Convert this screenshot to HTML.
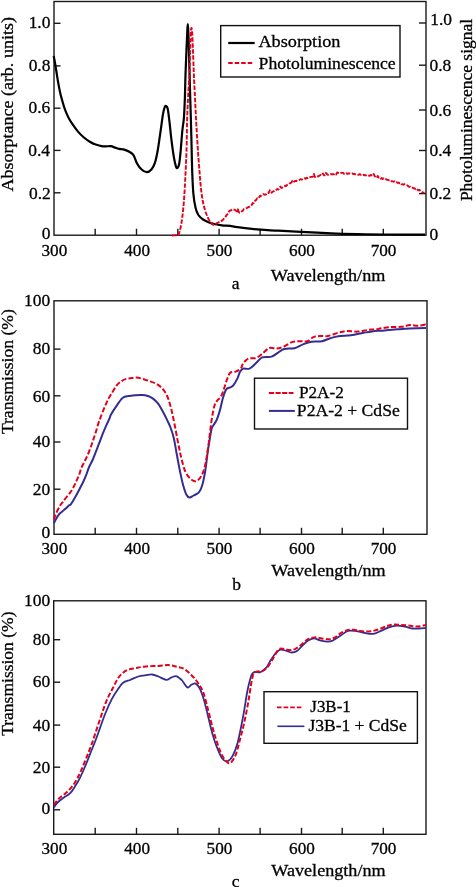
<!DOCTYPE html>
<html><head><meta charset="utf-8"><title>Figure</title><style>
html,body{margin:0;padding:0;background:#fff;width:476px;height:887px;overflow:hidden}
svg{display:block;will-change:transform}
text{font-family:"Liberation Serif",serif;fill:#000}
</style></head><body>
<svg width="476" height="887" viewBox="0 0 476 887">
<rect x="54" y="1.5" width="372.00" height="233.70" fill="none" stroke="#1a1a1a" stroke-width="1.4"/>
<line x1="95.20" y1="235.20" x2="95.20" y2="228.70" stroke="#1a1a1a" stroke-width="1.4" />
<line x1="136.50" y1="235.20" x2="136.50" y2="228.70" stroke="#1a1a1a" stroke-width="1.4" />
<line x1="177.80" y1="235.20" x2="177.80" y2="228.70" stroke="#1a1a1a" stroke-width="1.4" />
<line x1="219.10" y1="235.20" x2="219.10" y2="228.70" stroke="#1a1a1a" stroke-width="1.4" />
<line x1="260.10" y1="235.20" x2="260.10" y2="228.70" stroke="#1a1a1a" stroke-width="1.4" />
<line x1="301.50" y1="235.20" x2="301.50" y2="228.70" stroke="#1a1a1a" stroke-width="1.4" />
<line x1="342.20" y1="235.20" x2="342.20" y2="228.70" stroke="#1a1a1a" stroke-width="1.4" />
<line x1="383.30" y1="235.20" x2="383.30" y2="228.70" stroke="#1a1a1a" stroke-width="1.4" />
<line x1="54.00" y1="23.30" x2="60.50" y2="23.30" stroke="#1a1a1a" stroke-width="1.4" />
<line x1="54.00" y1="65.90" x2="60.50" y2="65.90" stroke="#1a1a1a" stroke-width="1.4" />
<line x1="54.00" y1="108.20" x2="60.50" y2="108.20" stroke="#1a1a1a" stroke-width="1.4" />
<line x1="54.00" y1="150.40" x2="60.50" y2="150.40" stroke="#1a1a1a" stroke-width="1.4" />
<line x1="54.00" y1="192.80" x2="60.50" y2="192.80" stroke="#1a1a1a" stroke-width="1.4" />
<line x1="419.00" y1="23.00" x2="426.00" y2="23.00" stroke="#1a1a1a" stroke-width="1.4" />
<line x1="419.00" y1="65.20" x2="426.00" y2="65.20" stroke="#1a1a1a" stroke-width="1.4" />
<line x1="419.00" y1="110.00" x2="426.00" y2="110.00" stroke="#1a1a1a" stroke-width="1.4" />
<line x1="419.00" y1="150.50" x2="426.00" y2="150.50" stroke="#1a1a1a" stroke-width="1.4" />
<line x1="419.00" y1="193.60" x2="426.00" y2="193.60" stroke="#1a1a1a" stroke-width="1.4" />
<text x="28.67" y="27.90" font-size="17.7" textLength="21.79" lengthAdjust="spacingAndGlyphs" stroke="#000" stroke-width="0.3">1.0</text>
<text x="28.67" y="70.60" font-size="17.7" textLength="21.79" lengthAdjust="spacingAndGlyphs" stroke="#000" stroke-width="0.3">0.8</text>
<text x="28.53" y="112.70" font-size="17.7" textLength="21.79" lengthAdjust="spacingAndGlyphs" stroke="#000" stroke-width="0.3">0.6</text>
<text x="28.28" y="155.50" font-size="17.7" textLength="21.79" lengthAdjust="spacingAndGlyphs" stroke="#000" stroke-width="0.3">0.4</text>
<text x="28.97" y="198.80" font-size="17.7" textLength="21.79" lengthAdjust="spacingAndGlyphs" stroke="#000" stroke-width="0.3">0.2</text>
<text x="41.75" y="239.30" font-size="17.7" textLength="8.72" lengthAdjust="spacingAndGlyphs" stroke="#000" stroke-width="0.3">0</text>
<text x="430.27" y="24.60" font-size="17.7" textLength="21.79" lengthAdjust="spacingAndGlyphs" stroke="#000" stroke-width="0.3">1.0</text>
<text x="429.54" y="70.80" font-size="17.7" textLength="21.79" lengthAdjust="spacingAndGlyphs" stroke="#000" stroke-width="0.3">0.8</text>
<text x="429.54" y="115.70" font-size="17.7" textLength="21.79" lengthAdjust="spacingAndGlyphs" stroke="#000" stroke-width="0.3">0.6</text>
<text x="429.54" y="155.60" font-size="17.7" textLength="21.79" lengthAdjust="spacingAndGlyphs" stroke="#000" stroke-width="0.3">0.4</text>
<text x="429.54" y="199.00" font-size="17.7" textLength="21.79" lengthAdjust="spacingAndGlyphs" stroke="#000" stroke-width="0.3">0.2</text>
<text x="429.54" y="239.60" font-size="17.7" textLength="8.72" lengthAdjust="spacingAndGlyphs" stroke="#000" stroke-width="0.3">0</text>
<text x="41.54" y="255.60" font-size="17.7" textLength="25.75" lengthAdjust="spacingAndGlyphs" stroke="#000" stroke-width="0.3">300</text>
<text x="124.28" y="255.60" font-size="17.7" textLength="25.75" lengthAdjust="spacingAndGlyphs" stroke="#000" stroke-width="0.3">400</text>
<text x="206.55" y="255.60" font-size="17.7" textLength="25.75" lengthAdjust="spacingAndGlyphs" stroke="#000" stroke-width="0.3">500</text>
<text x="289.08" y="255.60" font-size="17.7" textLength="25.75" lengthAdjust="spacingAndGlyphs" stroke="#000" stroke-width="0.3">600</text>
<text x="370.68" y="255.60" font-size="17.7" textLength="25.75" lengthAdjust="spacingAndGlyphs" stroke="#000" stroke-width="0.3">700</text>
<text x="270.88" y="280.80" font-size="17.5" textLength="114.50" lengthAdjust="spacingAndGlyphs" stroke="#000" stroke-width="0.3">Wavelength/nm</text>
<text x="231.63" y="288.90" font-size="17.5" stroke="#000" stroke-width="0.3">a</text>
<text transform="translate(12.70 191.58) rotate(-90)" x="0" y="0" font-size="17.5" textLength="174.47" lengthAdjust="spacingAndGlyphs" stroke="#000" stroke-width="0.3">Absorptance (arb. units)</text>
<text transform="translate(472.40 201.11) rotate(-90)" x="0" y="0" font-size="17.5" stroke="#000" stroke-width="0.3">Photoluminescence signal</text>
<rect x="220.7" y="25.6" width="179.3" height="51.4" fill="#fff" stroke="#111" stroke-width="1.4"/>
<line x1="228.20" y1="43.00" x2="254.70" y2="43.00" stroke="#000" stroke-width="2.2" />
<line x1="228.20" y1="63.00" x2="252.60" y2="63.00" stroke="#e3001b" stroke-width="1.8" stroke-dasharray="4.5 2"/>
<text x="258.42" y="46.70" font-size="17.5" textLength="82.05" lengthAdjust="spacingAndGlyphs" stroke="#000" stroke-width="0.3">Absorption</text>
<text x="258.59" y="69.00" font-size="17.5" textLength="137.12" lengthAdjust="spacingAndGlyphs" stroke="#000" stroke-width="0.3">Photoluminescence</text>
<path d="M53.7 56.0 C54.0 57.5 54.9 62.0 55.4 65.2 C55.9 68.4 56.5 71.9 57.0 75.3 C57.5 78.7 58.1 82.3 58.7 85.4 C59.3 88.5 59.7 90.9 60.4 93.8 C61.1 96.7 62.1 100.2 62.9 103.0 C63.7 105.8 64.4 108.1 65.4 110.6 C66.4 113.1 67.5 115.8 68.8 118.2 C70.1 120.6 71.5 122.7 73.0 124.9 C74.5 127.1 76.2 129.5 78.0 131.6 C79.8 133.7 81.9 135.8 83.9 137.5 C85.9 139.2 87.8 140.5 89.8 141.7 C91.8 142.9 93.7 143.8 95.7 144.5 C97.7 145.2 99.9 145.9 101.6 146.2 C103.3 146.5 104.3 146.4 105.8 146.4 C107.3 146.4 109.3 146.0 110.8 146.2 C112.3 146.4 113.6 147.1 115.0 147.6 C116.4 148.1 117.7 148.6 119.2 148.9 C120.8 149.2 122.6 149.1 124.3 149.6 C126.0 150.1 127.8 150.9 129.3 151.8 C130.8 152.7 132.2 153.2 133.5 155.1 C134.8 157.0 135.6 160.8 136.9 163.2 C138.2 165.6 139.9 168.0 141.6 169.5 C143.2 171.0 145.2 172.2 146.8 172.2 C148.4 172.2 150.1 171.0 151.4 169.5 C152.7 168.0 153.8 166.4 154.8 163.2 C155.9 160.0 156.8 155.5 157.7 150.5 C158.6 145.5 159.4 139.1 160.3 133.1 C161.2 127.1 162.2 118.9 162.9 114.6 C163.6 110.3 164.2 108.5 164.7 107.1 C165.2 105.7 165.5 105.8 166.0 106.0 C166.5 106.2 167.0 105.9 167.6 108.3 C168.2 110.7 168.6 114.9 169.3 120.4 C170.0 125.9 170.8 135.0 171.6 141.2 C172.4 147.4 173.2 153.2 173.9 157.4 C174.6 161.6 175.4 164.8 176.0 166.6 C176.6 168.4 176.9 168.4 177.4 168.0 C177.9 167.6 178.5 167.4 179.1 164.3 C179.7 161.2 180.3 154.9 180.8 149.3 C181.3 143.8 181.8 136.2 182.3 131.0 C182.8 125.8 183.5 123.2 183.9 118.0 C184.3 112.8 184.5 107.2 184.8 100.0 C185.1 92.8 185.2 83.5 185.5 75.0 C185.8 66.5 186.2 56.3 186.5 49.0 C186.8 41.7 187.1 35.2 187.3 31.0 C187.5 26.8 187.6 24.0 187.8 24.0 C188.0 24.0 188.1 26.8 188.3 31.0 C188.5 35.2 188.7 41.7 188.9 49.0 C189.1 56.3 189.4 66.5 189.6 75.0 C189.8 83.5 190.1 92.5 190.3 100.0 C190.5 107.5 190.7 112.2 190.9 120.0 C191.1 127.8 191.4 138.0 191.6 147.0 C191.8 156.0 192.0 166.2 192.3 174.0 C192.6 181.8 192.9 188.3 193.4 194.0 C193.9 199.7 194.8 204.5 195.6 208.0 C196.4 211.5 197.2 213.1 198.4 215.0 C199.7 216.9 201.4 218.3 203.1 219.5 C204.8 220.7 206.5 221.4 208.5 222.2 C210.5 223.0 212.9 223.7 215.2 224.2 C217.4 224.7 219.5 225.0 222.0 225.3 C224.5 225.6 228.1 225.5 230.3 225.8 C232.5 226.1 232.8 226.5 235.3 226.9 C237.8 227.3 241.2 227.6 245.4 228.1 C249.6 228.6 255.0 229.3 260.5 229.7 C266.0 230.1 271.5 230.3 278.2 230.7 C284.9 231.1 292.0 231.5 300.9 231.9 C309.8 232.3 321.9 232.9 331.3 233.3 C340.7 233.7 348.8 233.9 357.5 234.1 C366.2 234.3 372.6 234.4 383.8 234.5 C395.1 234.6 418.1 234.6 425.0 234.6" fill="none" stroke="#000" stroke-width="2.2" stroke-linejoin="round" stroke-linecap="butt" />
<path d="M172.0 235.5 172.1 235.5 172.3 235.5 172.5 235.5 172.8 235.5 173.0 235.5 173.3 235.4 173.6 235.4 173.9 235.4 174.2 235.4 174.5 235.4 174.8 235.4 175.0 235.4 175.3 235.3 175.6 235.3 175.8 235.3 176.0 235.3 176.4 235.3 176.7 235.3 177.0 235.3 177.2 235.3 177.5 235.3 177.7 235.2 177.9 235.2 178.1 235.0 178.2 234.9 178.4 234.8 178.5 234.7 178.6 234.5 178.7 234.4 178.8 234.2 178.9 234.0 179.0 233.7 179.1 233.3 179.2 232.9 179.4 232.3 179.4 232.1 179.5 232.0 179.5 231.8 179.6 231.7 179.6 231.5 179.7 231.3 179.7 231.1 179.8 231.0 179.8 230.8 179.9 230.6 179.9 230.4 180.0 230.2 180.0 230.0 180.1 229.8 180.1 229.6 180.2 229.4 180.2 229.2 180.3 228.9 180.3 228.7 180.4 228.5 180.4 228.2 180.5 228.0 180.5 227.8 180.6 227.5 180.7 227.3 180.7 227.0 180.8 226.7 180.8 226.5 180.9 226.2 180.9 225.9 181.0 225.6 181.1 225.3 181.1 225.1 181.2 224.8 181.2 224.5 181.3 224.2 181.3 223.8 181.4 223.5 181.4 223.2 181.5 222.9 181.5 222.5 181.6 222.2 181.6 221.9 181.7 221.5 181.7 221.3 181.8 221.1 181.8 220.9 181.8 220.7 181.8 220.5 181.9 220.3 181.9 220.1 181.9 219.9 182.0 219.7 182.0 219.5 182.0 219.3 182.0 219.1 182.1 218.9 182.1 218.6 182.1 218.4 182.2 218.2 182.2 218.0 182.2 217.8 182.2 217.5 182.3 217.3 182.3 217.1 182.3 216.9 182.3 216.6 182.4 216.4 182.4 216.2 182.4 215.9 182.5 215.7 182.5 215.5 182.5 215.2 182.5 215.0 182.6 214.7 182.6 214.5 182.6 214.2 182.7 214.0 182.7 213.8 182.7 213.5 182.7 213.3 182.8 213.0 182.8 212.8 182.8 212.5 182.9 212.2 182.9 212.0 182.9 211.7 182.9 211.5 183.0 211.2 183.0 211.0 183.0 210.7 183.1 210.4 183.1 210.2 183.1 209.9 183.1 209.6 183.2 209.4 183.2 209.1 183.2 208.8 183.2 208.6 183.3 208.3 183.3 208.0 183.3 207.7 183.3 207.5 183.4 207.2 183.4 206.9 183.4 206.6 183.5 206.4 183.5 206.1 183.5 205.8 183.5 205.5 183.6 205.2 183.6 205.0 183.6 204.7 183.6 204.4 183.7 204.1 183.7 203.8 183.7 203.5 183.7 203.2 183.8 202.9 183.8 202.7 183.8 202.4 183.8 202.1 183.9 201.8 183.9 201.5 183.9 201.2 183.9 201.0 183.9 200.8 184.0 200.5 184.0 200.3 184.0 200.1 184.0 199.9 184.0 199.6 184.0 199.4 184.1 199.2 184.1 198.9 184.1 198.7 184.1 198.5 184.1 198.2 184.1 198.0 184.2 197.8 184.2 197.5 184.2 197.3 184.2 197.1 184.2 196.8 184.2 196.6 184.3 196.3 184.3 196.1 184.3 195.9 184.3 195.6 184.3 195.4 184.3 195.1 184.4 194.9 184.4 194.6 184.4 194.4 184.4 194.1 184.4 193.9 184.4 193.6 184.4 193.4 184.5 193.1 184.5 192.9 184.5 192.6 184.5 192.4 184.5 192.1 184.5 191.9 184.6 191.6 184.6 191.4 184.6 191.1 184.6 190.9 184.6 190.6 184.6 190.3 184.6 190.1 184.7 189.8 184.7 189.6 184.7 189.3 184.7 189.1 184.7 188.8 184.7 188.5 184.8 188.3 184.8 188.0 184.8 187.8 184.8 187.5 184.8 187.2 184.8 187.0 184.8 186.7 184.9 186.5 184.9 186.2 184.9 185.9 184.9 185.7 184.9 185.4 184.9 185.1 184.9 184.9 185.0 184.6 185.0 184.4 185.0 184.1 185.0 183.8 185.0 183.6 185.0 183.3 185.0 183.0 185.1 182.8 185.1 182.5 185.1 182.3 185.1 182.0 185.1 181.7 185.1 181.5 185.1 181.2 185.1 180.9 185.2 180.7 185.2 180.4 185.2 180.2 185.2 179.9 185.2 179.6 185.2 179.4 185.2 179.1 185.3 178.9 185.3 178.6 185.3 178.3 185.3 178.1 185.3 177.8 185.3 177.6 185.3 177.3 185.3 177.1 185.4 176.8 185.4 176.5 185.4 176.3 185.4 176.0 185.4 175.8 185.4 175.5 185.4 175.3 185.4 175.0 185.5 174.8 185.5 174.5 185.5 174.3 185.5 174.0 185.5 173.7 185.5 173.5 185.5 173.2 185.5 173.0 185.6 172.7 185.6 172.5 185.6 172.2 185.6 172.0 185.6 171.7 185.6 171.5 185.6 171.2 185.6 171.0 185.7 170.7 185.7 170.5 185.7 170.2 185.7 170.0 185.7 169.7 185.7 169.5 185.7 169.2 185.7 169.0 185.8 168.7 185.8 168.5 185.8 168.2 185.8 168.0 185.8 167.7 185.8 167.5 185.8 167.2 185.8 167.0 185.8 166.7 185.9 166.5 185.9 166.2 185.9 166.0 185.9 165.7 185.9 165.5 185.9 165.2 185.9 165.0 185.9 164.7 185.9 164.5 186.0 164.2 186.0 164.0 186.0 163.7 186.0 163.5 186.0 163.2 186.0 163.0 186.0 162.7 186.0 162.5 186.0 162.2 186.1 162.0 186.1 161.7 186.1 161.5 186.1 161.2 186.1 161.0 186.1 160.7 186.1 160.5 186.1 160.2 186.1 160.0 186.1 159.7 186.2 159.5 186.2 159.2 186.2 159.0 186.2 158.7 186.2 158.5 186.2 158.2 186.2 158.0 186.2 157.7 186.2 157.5 186.2 157.2 186.3 157.0 186.3 156.7 186.3 156.5 186.3 156.2 186.3 156.0 186.3 155.7 186.3 155.5 186.3 155.2 186.3 155.0 186.3 154.7 186.4 154.5 186.4 154.2 186.4 154.0 186.4 153.7 186.4 153.5 186.4 153.2 186.4 153.0 186.4 152.7 186.4 152.5 186.4 152.2 186.4 152.0 186.4 151.7 186.5 151.5 186.5 151.2 186.5 151.0 186.5 150.7 186.5 150.5 186.5 150.2 186.5 150.0 186.5 149.7 186.5 149.5 186.5 149.2 186.5 149.0 186.5 148.7 186.6 148.5 186.6 148.2 186.6 148.0 186.6 147.7 186.6 147.5 186.6 147.2 186.6 147.0 186.6 146.7 186.6 146.5 186.6 146.2 186.6 146.0 186.6 145.7 186.6 145.5 186.6 145.2 186.7 145.0 186.7 144.7 186.7 144.5 186.7 144.2 186.7 144.0 186.7 143.7 186.7 143.5 186.7 143.2 186.7 143.0 186.7 142.7 186.7 142.5 186.7 142.2 186.7 142.0 186.7 141.7 186.7 141.5 186.7 141.2 186.7 141.0 186.7 140.7 186.7 140.5 186.8 140.2 186.8 140.0 186.8 139.7 186.8 139.4 186.8 139.2 186.8 138.9 186.8 138.7 186.8 138.4 186.8 138.2 186.8 137.9 186.8 137.7 186.8 137.4 186.8 137.2 186.8 136.9 186.8 136.7 186.8 136.4 186.8 136.2 186.8 135.9 186.8 135.6 186.8 135.4 186.8 135.1 186.8 134.9 186.8 134.6 186.8 134.4 186.8 134.1 186.8 133.9 186.8 133.6 186.8 133.4 186.9 133.1 186.9 132.9 186.9 132.6 186.9 132.4 186.9 132.1 186.9 131.9 186.9 131.6 186.9 131.4 186.9 131.1 186.9 130.9 186.9 130.6 186.9 130.4 186.9 130.1 186.9 129.9 186.9 129.6 186.9 129.4 186.9 129.1 186.9 128.9 186.9 128.6 186.9 128.4 186.9 128.1 186.9 127.9 186.9 127.6 186.9 127.4 186.9 127.1 186.9 126.9 186.9 126.6 187.0 126.4 187.0 126.1 187.0 125.9 187.0 125.6 187.0 125.4 187.0 125.1 187.0 124.9 187.0 124.6 187.0 124.4 187.0 124.1 187.0 123.9 187.0 123.6 187.0 123.4 187.0 123.2 187.0 122.9 187.0 122.7 187.0 122.4 187.0 122.2 187.0 121.9 187.1 121.7 187.1 121.5 187.1 121.2 187.1 121.0 187.1 120.7 187.1 120.5 187.1 120.2 187.1 120.0 187.1 119.7 187.1 119.5 187.1 119.2 187.1 119.0 187.1 118.7 187.1 118.4 187.2 118.2 187.2 117.9 187.2 117.7 187.2 117.4 187.2 117.1 187.2 116.9 187.2 116.6 187.2 116.4 187.2 116.1 187.2 115.8 187.3 115.6 187.3 115.3 187.3 115.1 187.3 114.8 187.3 114.5 187.3 114.3 187.3 114.0 187.3 113.8 187.3 113.5 187.3 113.2 187.4 113.0 187.4 112.7 187.4 112.5 187.4 112.2 187.4 111.9 187.4 111.7 187.4 111.4 187.4 111.2 187.4 110.9 187.4 110.6 187.5 110.4 187.5 110.1 187.5 109.9 187.5 109.6 187.5 109.4 187.5 109.1 187.5 108.8 187.5 108.6 187.5 108.3 187.6 108.1 187.6 107.8 187.6 107.6 187.6 107.3 187.6 107.1 187.6 106.8 187.6 106.6 187.6 106.3 187.7 106.1 187.7 105.8 187.7 105.5 187.7 105.3 187.7 105.0 187.7 104.8 187.7 104.5 187.7 104.3 187.7 104.0 187.8 103.8 187.8 103.5 187.8 103.3 187.8 103.1 187.8 102.8 187.8 102.6 187.8 102.3 187.8 102.1 187.9 101.8 187.9 101.6 187.9 101.3 187.9 101.1 187.9 100.9 187.9 100.6 187.9 100.4 187.9 100.1 188.0 99.9 188.0 99.6 188.0 99.4 188.0 99.2 188.0 98.9 188.0 98.7 188.0 98.5 188.0 98.2 188.0 98.0 188.1 97.8 188.1 97.5 188.1 97.3 188.1 97.1 188.1 96.8 188.1 96.6 188.1 96.4 188.1 96.1 188.2 95.9 188.2 95.7 188.2 95.5 188.2 95.2 188.2 95.0 188.2 94.7 188.2 94.4 188.2 94.2 188.3 93.9 188.3 93.6 188.3 93.4 188.3 93.1 188.3 92.8 188.3 92.6 188.3 92.3 188.4 92.0 188.4 91.8 188.4 91.5 188.4 91.3 188.4 91.0 188.4 90.8 188.5 90.5 188.5 90.3 188.5 90.0 188.5 89.8 188.5 89.5 188.5 89.3 188.5 89.1 188.6 88.8 188.6 88.6 188.6 88.3 188.6 88.1 188.6 87.9 188.6 87.6 188.7 87.4 188.7 87.2 188.7 86.9 188.7 86.7 188.7 86.5 188.7 86.2 188.8 86.0 188.8 85.8 188.8 85.5 188.8 85.3 188.8 85.1 188.8 84.8 188.9 84.6 188.9 84.4 188.9 84.1 188.9 83.9 188.9 83.7 188.9 83.4 188.9 83.2 189.0 83.0 189.0 82.7 189.0 82.5 189.0 82.2 189.0 82.0 189.0 81.8 189.1 81.5 189.1 81.3 189.1 81.0 189.1 80.8 189.1 80.6 189.1 80.3 189.1 80.1 189.2 79.8 189.2 79.6 189.2 79.3 189.2 79.0 189.2 78.8 189.2 78.5 189.2 78.3 189.3 78.0 189.3 77.8 189.3 77.5 189.3 77.2 189.3 77.0 189.3 76.7 189.3 76.4 189.3 76.1 189.4 75.9 189.4 75.6 189.4 75.3 189.4 75.0 189.4 74.8 189.4 74.6 189.4 74.3 189.4 74.1 189.4 73.9 189.5 73.6 189.5 73.4 189.5 73.2 189.5 72.9 189.5 72.7 189.5 72.5 189.5 72.2 189.5 72.0 189.5 71.7 189.5 71.5 189.5 71.2 189.6 71.0 189.6 70.7 189.6 70.5 189.6 70.2 189.6 70.0 189.6 69.7 189.6 69.5 189.6 69.2 189.6 68.9 189.6 68.7 189.6 68.4 189.6 68.2 189.7 67.9 189.7 67.6 189.7 67.4 189.7 67.1 189.7 66.8 189.7 66.6 189.7 66.3 189.7 66.1 189.7 65.8 189.7 65.5 189.7 65.2 189.7 65.0 189.8 64.7 189.8 64.4 189.8 64.2 189.8 63.9 189.8 63.6 189.8 63.4 189.8 63.1 189.8 62.8 189.8 62.6 189.8 62.3 189.8 62.0 189.8 61.8 189.8 61.5 189.9 61.2 189.9 60.9 189.9 60.7 189.9 60.4 189.9 60.1 189.9 59.9 189.9 59.6 189.9 59.3 189.9 59.1 189.9 58.8 189.9 58.5 189.9 58.3 189.9 58.0 189.9 57.8 190.0 57.5 190.0 57.2 190.0 57.0 190.0 56.7 190.0 56.5 190.0 56.2 190.0 55.9 190.0 55.7 190.0 55.4 190.0 55.2 190.0 54.9 190.0 54.7 190.0 54.4 190.0 54.2 190.1 53.9 190.1 53.7 190.1 53.5 190.1 53.2 190.1 53.0 190.1 52.7 190.1 52.5 190.1 52.3 190.1 52.0 190.1 51.8 190.1 51.6 190.1 51.4 190.1 51.1 190.1 50.9 190.1 50.7 190.2 50.5 190.2 50.3 190.2 50.0 190.2 49.8 190.2 49.6 190.2 49.4 190.2 49.2 190.2 49.0 190.2 48.7 190.2 48.3 190.2 48.0 190.2 47.7 190.3 47.4 190.3 47.1 190.3 46.8 190.3 46.4 190.3 46.1 190.3 45.8 190.3 45.5 190.3 45.2 190.3 44.9 190.3 44.6 190.4 44.3 190.4 44.0 190.4 43.7 190.4 43.5 190.4 43.2 190.4 42.9 190.4 42.6 190.4 42.3 190.4 42.1 190.4 41.8 190.4 41.5 190.5 41.2 190.5 41.0 190.5 40.7 190.5 40.5 190.5 40.2 190.5 39.9 190.5 39.7 190.5 39.4 190.5 39.2 190.5 38.9 190.5 38.7 190.6 38.5 190.6 38.2 190.6 38.0 190.6 37.8 190.6 37.5 190.6 37.3 190.6 37.1 190.6 36.9 190.6 36.6 190.6 36.4 190.6 36.2 190.6 36.0 190.7 35.8 190.7 35.6 190.7 35.4 190.7 35.2 190.7 35.0 190.7 34.8 190.7 34.6 190.7 34.4 190.7 34.2 190.7 34.0 190.8 33.9 190.8 33.7 190.8 33.5 190.8 33.3 190.8 33.2 190.8 33.0 190.8 32.5 190.9 32.0 190.9 31.6 190.9 31.1 191.0 30.7 191.0 30.4 191.0 30.0 191.1 29.7 191.1 29.4 191.1 29.2 191.2 29.0 191.2 28.8 191.3 28.6 191.3 28.4 191.3 28.3 191.4 28.2 191.4 28.1 191.4 28.0 191.5 28.0 191.5 28.0 191.5 28.0 191.6 28.0 191.6 28.1 191.6 28.2 191.7 28.3 191.7 28.4 191.7 28.6 191.8 28.8 191.8 29.0 191.8 29.2 191.9 29.4 191.9 29.7 192.0 30.0 192.0 30.4 192.0 30.7 192.1 31.1 192.1 31.6 192.1 32.0 192.2 32.5 192.2 33.0 192.2 33.2 192.2 33.3 192.2 33.5 192.2 33.7 192.3 33.9 192.3 34.0 192.3 34.2 192.3 34.4 192.3 34.6 192.3 34.8 192.3 35.0 192.3 35.2 192.3 35.4 192.3 35.6 192.4 35.8 192.4 36.0 192.4 36.2 192.4 36.4 192.4 36.6 192.4 36.9 192.4 37.1 192.4 37.3 192.4 37.5 192.4 37.8 192.5 38.0 192.5 38.2 192.5 38.5 192.5 38.7 192.5 38.9 192.5 39.2 192.5 39.4 192.5 39.7 192.5 39.9 192.6 40.2 192.6 40.5 192.6 40.7 192.6 41.0 192.6 41.2 192.6 41.5 192.6 41.8 192.6 42.1 192.6 42.3 192.6 42.6 192.7 42.9 192.7 43.2 192.7 43.5 192.7 43.7 192.7 44.0 192.7 44.3 192.7 44.6 192.7 44.9 192.8 45.2 192.8 45.5 192.8 45.8 192.8 46.1 192.8 46.4 192.8 46.8 192.8 47.1 192.8 47.4 192.8 47.7 192.9 48.0 192.9 48.3 192.9 48.7 192.9 49.0 192.9 49.2 192.9 49.4 192.9 49.6 192.9 49.8 192.9 50.0 192.9 50.2 193.0 50.5 193.0 50.7 193.0 50.9 193.0 51.1 193.0 51.3 193.0 51.6 193.0 51.8 193.0 52.0 193.0 52.2 193.0 52.5 193.0 52.7 193.1 52.9 193.1 53.2 193.1 53.4 193.1 53.7 193.1 53.9 193.1 54.1 193.1 54.4 193.1 54.6 193.1 54.9 193.1 55.1 193.1 55.4 193.2 55.6 193.2 55.9 193.2 56.1 193.2 56.4 193.2 56.6 193.2 56.9 193.2 57.1 193.2 57.4 193.2 57.6 193.2 57.9 193.2 58.1 193.3 58.4 193.3 58.7 193.3 58.9 193.3 59.2 193.3 59.5 193.3 59.7 193.3 60.0 193.3 60.2 193.3 60.5 193.3 60.8 193.4 61.0 193.4 61.3 193.4 61.6 193.4 61.8 193.4 62.1 193.4 62.4 193.4 62.6 193.4 62.9 193.4 63.2 193.4 63.4 193.5 63.7 193.5 64.0 193.5 64.2 193.5 64.5 193.5 64.8 193.5 65.0 193.5 65.3 193.5 65.6 193.5 65.8 193.5 66.1 193.6 66.4 193.6 66.6 193.6 66.9 193.6 67.2 193.6 67.4 193.6 67.7 193.6 68.0 193.6 68.2 193.6 68.5 193.6 68.7 193.7 69.0 193.7 69.3 193.7 69.5 193.7 69.8 193.7 70.0 193.7 70.3 193.7 70.6 193.7 70.8 193.7 71.1 193.7 71.3 193.8 71.6 193.8 71.8 193.8 72.1 193.8 72.3 193.8 72.6 193.8 72.8 193.8 73.1 193.8 73.3 193.8 73.6 193.8 73.8 193.9 74.0 193.9 74.3 193.9 74.5 193.9 74.8 193.9 75.0 193.9 75.3 193.9 75.5 193.9 75.8 193.9 76.1 194.0 76.3 194.0 76.6 194.0 76.9 194.0 77.1 194.0 77.4 194.0 77.6 194.0 77.9 194.0 78.2 194.1 78.4 194.1 78.7 194.1 78.9 194.1 79.2 194.1 79.4 194.1 79.7 194.1 80.0 194.1 80.2 194.1 80.5 194.2 80.7 194.2 81.0 194.2 81.2 194.2 81.5 194.2 81.7 194.2 82.0 194.2 82.3 194.2 82.5 194.3 82.8 194.3 83.0 194.3 83.3 194.3 83.5 194.3 83.8 194.3 84.0 194.3 84.3 194.3 84.5 194.3 84.8 194.4 85.0 194.4 85.3 194.4 85.5 194.4 85.8 194.4 86.0 194.4 86.3 194.4 86.5 194.4 86.8 194.5 87.0 194.5 87.2 194.5 87.5 194.5 87.7 194.5 88.0 194.5 88.2 194.5 88.5 194.5 88.7 194.6 89.0 194.6 89.2 194.6 89.5 194.6 89.7 194.6 89.9 194.6 90.2 194.6 90.4 194.6 90.7 194.6 90.9 194.7 91.2 194.7 91.4 194.7 91.7 194.7 91.9 194.7 92.1 194.7 92.4 194.7 92.6 194.7 92.9 194.8 93.1 194.8 93.4 194.8 93.6 194.8 93.9 194.8 94.1 194.8 94.3 194.8 94.6 194.8 94.8 194.9 95.1 194.9 95.3 194.9 95.6 194.9 95.8 194.9 96.0 194.9 96.3 194.9 96.5 194.9 96.8 195.0 97.0 195.0 97.3 195.0 97.5 195.0 97.8 195.0 98.0 195.0 98.3 195.0 98.5 195.0 98.8 195.0 99.0 195.1 99.3 195.1 99.5 195.1 99.8 195.1 100.0 195.1 100.3 195.1 100.5 195.1 100.8 195.1 101.0 195.2 101.3 195.2 101.5 195.2 101.7 195.2 102.0 195.2 102.2 195.2 102.5 195.2 102.7 195.2 103.0 195.3 103.2 195.3 103.5 195.3 103.7 195.3 103.9 195.3 104.2 195.3 104.4 195.3 104.7 195.3 104.9 195.3 105.1 195.4 105.4 195.4 105.6 195.4 105.9 195.4 106.1 195.4 106.3 195.4 106.6 195.4 106.8 195.4 107.1 195.4 107.3 195.5 107.5 195.5 107.8 195.5 108.0 195.5 108.3 195.5 108.5 195.5 108.8 195.5 109.0 195.5 109.2 195.6 109.5 195.6 109.7 195.6 110.0 195.6 110.2 195.6 110.4 195.6 110.7 195.6 110.9 195.6 111.2 195.7 111.4 195.7 111.7 195.7 111.9 195.7 112.2 195.7 112.4 195.7 112.7 195.7 112.9 195.7 113.2 195.8 113.4 195.8 113.7 195.8 113.9 195.8 114.2 195.8 114.4 195.8 114.7 195.8 114.9 195.8 115.2 195.9 115.5 195.9 115.7 195.9 116.0 195.9 116.2 195.9 116.5 195.9 116.8 195.9 117.0 196.0 117.3 196.0 117.5 196.0 117.8 196.0 118.1 196.0 118.4 196.0 118.6 196.0 118.9 196.1 119.2 196.1 119.4 196.1 119.7 196.1 120.0 196.1 120.2 196.1 120.5 196.1 120.7 196.2 120.9 196.2 121.1 196.2 121.4 196.2 121.6 196.2 121.8 196.2 122.1 196.2 122.3 196.2 122.5 196.3 122.8 196.3 123.0 196.3 123.3 196.3 123.5 196.3 123.7 196.3 124.0 196.3 124.2 196.3 124.5 196.4 124.7 196.4 124.9 196.4 125.2 196.4 125.4 196.4 125.7 196.4 125.9 196.4 126.2 196.5 126.4 196.5 126.6 196.5 126.9 196.5 127.1 196.5 127.4 196.5 127.6 196.5 127.9 196.6 128.1 196.6 128.4 196.6 128.6 196.6 128.9 196.6 129.1 196.6 129.4 196.6 129.6 196.7 129.9 196.7 130.1 196.7 130.4 196.7 130.6 196.7 130.9 196.7 131.1 196.7 131.4 196.8 131.7 196.8 131.9 196.8 132.2 196.8 132.4 196.8 132.7 196.8 132.9 196.8 133.2 196.9 133.4 196.9 133.7 196.9 134.0 196.9 134.2 196.9 134.5 196.9 134.7 196.9 135.0 197.0 135.2 197.0 135.5 197.0 135.8 197.0 136.0 197.0 136.3 197.0 136.5 197.1 136.8 197.1 137.0 197.1 137.3 197.1 137.6 197.1 137.8 197.1 138.1 197.1 138.3 197.2 138.6 197.2 138.8 197.2 139.1 197.2 139.4 197.2 139.6 197.2 139.9 197.3 140.1 197.3 140.4 197.3 140.6 197.3 140.9 197.3 141.2 197.3 141.4 197.4 141.7 197.4 141.9 197.4 142.2 197.4 142.4 197.4 142.7 197.4 143.0 197.5 143.2 197.5 143.5 197.5 143.7 197.5 144.0 197.5 144.2 197.5 144.5 197.6 144.7 197.6 145.0 197.6 145.2 197.6 145.5 197.6 145.7 197.6 146.0 197.7 146.2 197.7 146.5 197.7 146.7 197.7 147.0 197.7 147.3 197.7 147.5 197.8 147.8 197.8 148.0 197.8 148.3 197.8 148.5 197.8 148.8 197.8 149.0 197.9 149.3 197.9 149.5 197.9 149.8 197.9 150.0 197.9 150.3 197.9 150.5 198.0 150.8 198.0 151.1 198.0 151.3 198.0 151.6 198.0 151.8 198.0 152.1 198.1 152.4 198.1 152.6 198.1 152.9 198.1 153.1 198.1 153.4 198.2 153.6 198.2 153.9 198.2 154.2 198.2 154.4 198.2 154.7 198.2 154.9 198.3 155.2 198.3 155.5 198.3 155.7 198.3 156.0 198.3 156.2 198.4 156.5 198.4 156.8 198.4 157.0 198.4 157.3 198.4 157.5 198.4 157.8 198.5 158.1 198.5 158.3 198.5 158.6 198.5 158.8 198.5 159.1 198.6 159.4 198.6 159.6 198.6 159.9 198.6 160.1 198.6 160.4 198.7 160.7 198.7 160.9 198.7 161.2 198.7 161.4 198.7 161.7 198.8 161.9 198.8 162.2 198.8 162.5 198.8 162.7 198.8 163.0 198.8 163.2 198.9 163.5 198.9 163.7 198.9 164.0 198.9 164.2 198.9 164.5 199.0 164.7 199.0 165.0 199.0 165.2 199.0 165.5 199.0 165.7 199.1 166.0 199.1 166.2 199.1 166.5 199.1 166.7 199.1 167.0 199.2 167.2 199.2 167.5 199.2 167.7 199.2 168.0 199.2 168.2 199.2 168.4 199.3 168.7 199.3 168.9 199.3 169.2 199.3 169.4 199.3 169.6 199.4 169.9 199.4 170.1 199.4 170.4 199.4 170.6 199.4 170.8 199.5 171.1 199.5 171.3 199.5 171.5 199.5 171.8 199.5 172.0 199.6 172.2 199.6 172.4 199.6 172.7 199.6 172.9 199.6 173.1 199.6 173.3 199.7 173.6 199.7 173.8 199.7 174.0 199.7 174.3 199.7 174.6 199.8 174.9 199.8 175.2 199.8 175.5 199.8 175.7 199.9 176.0 199.9 176.3 199.9 176.6 199.9 176.9 200.0 177.2 200.0 177.4 200.0 177.7 200.0 178.0 200.1 178.3 200.1 178.6 200.1 178.8 200.1 179.1 200.2 179.4 200.2 179.7 200.2 179.9 200.2 180.2 200.2 180.5 200.3 180.7 200.3 181.0 200.3 181.3 200.3 181.5 200.4 181.8 200.4 182.1 200.4 182.3 200.4 182.6 200.5 182.9 200.5 183.1 200.5 183.4 200.5 183.6 200.6 183.9 200.6 184.1 200.6 184.4 200.6 184.7 200.6 184.9 200.7 185.2 200.7 185.4 200.7 185.7 200.7 185.9 200.8 186.2 200.8 186.4 200.8 186.7 200.8 186.9 200.9 187.1 200.9 187.4 200.9 187.6 200.9 187.9 201.0 188.1 201.0 188.3 201.0 188.6 201.0 188.8 201.1 189.1 201.1 189.3 201.1 189.5 201.1 189.8 201.2 190.0 201.2 190.2 201.2 190.5 201.2 190.7 201.3 190.9 201.3 191.1 201.3 191.4 201.3 191.6 201.4 191.8 201.4 192.0 201.4 192.2 201.4 192.5 201.5 192.7 201.5 192.9 201.5 193.1 201.6 193.3 201.6 193.6 201.6 193.8 201.6 194.0 201.7 194.2 201.7 194.4 201.7 194.7 201.8 195.0 201.8 195.3 201.9 195.6 201.9 195.9 202.0 196.2 202.0 196.5 202.0 196.8 202.1 197.1 202.1 197.3 202.2 197.6 202.2 197.9 202.3 198.2 202.3 198.4 202.4 198.7 202.4 199.0 202.5 199.2 202.5 199.5 202.6 199.8 202.6 200.0 202.6 200.3 202.7 200.5 202.7 200.8 202.8 201.0 202.8 201.3 202.9 201.5 202.9 201.8 203.0 202.0 203.0 202.2 203.1 202.5 203.1 202.7 203.2 203.0 203.2 203.2 203.3 203.4 203.3 203.6 203.4 203.9 203.4 204.1 203.5 204.3 203.5 204.6 203.6 204.8 203.6 205.0 203.7 205.2 203.8 205.4 203.8 205.7 203.9 205.9 203.9 206.1 204.0 206.3 204.0 206.5 204.1 206.7 204.1 206.9 204.2 207.2 204.2 207.4 204.3 207.6 204.3 207.8 204.4 208.0 204.5 208.3 204.6 208.6 204.6 208.9 204.7 209.2 204.8 209.4 204.9 209.7 205.0 210.0 205.1 210.3 205.2 210.6 205.2 210.8 205.3 211.1 205.4 211.4 205.5 211.6 205.6 211.9 205.7 212.1 205.8 212.4 205.9 212.6 206.0 212.9 206.1 213.1 206.1 213.4 206.2 213.6 206.3 213.9 206.4 214.1 206.5 214.3 206.6 214.6 206.7 214.8 206.8 215.0 206.9 215.2 207.0 215.4 207.0 215.6 207.1 215.9 207.2 216.1 207.3 216.3 207.4 216.5 207.5 216.7 207.6 216.8 207.6 217.0 207.7 217.2 207.8 217.4 207.9 217.7 208.1 218.0 208.2 218.3 208.3 218.6 208.5 218.9 208.6 219.1 208.7 219.4 208.9 219.6 209.0 219.8 209.1 220.0 209.2 220.2 209.3 220.4 209.5 220.6 209.6 220.8 209.7 220.9 209.8 221.1 210.0 221.3 210.1 221.5 210.2 221.6 210.4 221.8 210.5 222.0 210.7 222.2 210.9 222.4 211.0 222.7 211.2 222.9 211.4 223.1 211.6 223.4 211.8 223.6 212.0 223.8 212.2 224.0 212.4 224.1 212.6 224.3 212.8 224.5 213.0 224.6 213.2 224.7 213.4 224.8 213.6 224.9 213.8 224.9 214.0 224.9 214.2 224.9 214.4 224.8 214.7 224.7 214.9 224.6 215.1 224.5 215.3 224.4 215.5 224.2 215.8 224.1 216.0 223.9 216.2 223.7 216.4 223.6 216.7 223.4 216.9 223.2 217.1 223.1 217.4 222.9 217.6 222.8 217.8 222.7 218.1 222.6 218.3 222.5 218.5 222.4 218.8 222.2 219.0 222.1 219.3 222.0 219.5 221.9 219.7 221.8 220.0 221.7 220.2 221.6 220.5 221.5 220.7 221.4 220.9 221.2 221.2 221.1 221.4 221.0 221.6 220.8 221.8 220.7 222.0 220.6 222.2 220.4 222.4 220.2 222.6 220.1 222.8 219.9 222.9 219.8 223.1 219.6 223.3 219.4 223.5 219.2 223.6 219.1 223.8 218.9 224.0 218.7 224.1 218.5 224.3 218.3 224.5 218.1 224.7 217.9 224.8 217.7 225.0 217.5 225.2 217.3 225.3 217.1 225.5 216.9 225.6 216.7 225.8 216.5 225.9 216.3 226.1 215.7 227.0 214.6 227.9 213.7 229.0 211.5 230.0 210.5 231.0 210.4 232.1 209.5 233.1 209.2 234.2 209.6 235.1 210.0 236.0 210.8 237.0 211.4 237.9 209.3 238.8 212.1 239.7 212.8 240.8 212.4 241.8 211.3 242.8 210.8 243.9 209.1 244.8 208.8 245.8 208.7 246.8 208.0 247.8 207.4 248.8 207.0 249.8 206.6 250.8 205.8 251.7 205.1 252.7 203.0 253.6 203.2 254.5 201.7 255.4 200.3 256.3 199.9 257.2 198.2 258.1 198.5 259.1 197.4 260.1 195.7 261.0 196.0 261.9 194.5 262.9 194.1 263.8 194.2 264.8 194.8 265.8 194.6 266.8 193.1 267.8 192.8 268.7 193.0 269.7 190.3 270.7 192.2 271.7 192.7 272.7 191.6 273.6 191.4 274.5 190.8 275.5 190.9 276.4 189.7 277.3 189.0 278.4 189.6 279.4 187.2 280.3 186.6 281.3 188.0 282.2 187.7 283.2 187.4 284.2 187.0 285.2 185.7 286.1 186.1 287.2 184.9 288.2 184.7 289.3 183.7 290.4 183.1 291.3 182.5 292.3 181.1 293.3 182.4 294.4 181.3 295.4 181.0 296.4 181.0 297.4 180.2 298.4 180.2 299.6 179.8 300.5 179.2 301.6 179.6 302.6 179.1 303.6 178.3 304.7 178.2 305.8 178.8 306.9 177.8 307.9 178.1 308.9 177.4 309.9 177.1 310.9 176.9 311.9 176.9 312.9 176.7 313.9 174.0 314.9 177.0 315.9 176.2 316.9 176.7 317.9 176.3 318.9 176.0 319.9 175.3 320.9 175.0 321.9 175.3 322.9 173.4 323.9 175.2 324.9 175.3 325.9 172.9 326.9 174.1 327.9 174.8 329.0 174.4 330.0 174.6 331.0 174.1 332.0 174.3 333.1 174.1 334.1 174.2 335.1 173.6 336.1 174.5 337.2 172.5 338.2 172.9 339.2 173.3 340.2 173.4 341.3 172.8 342.3 172.9 343.3 172.9 344.3 174.0 345.4 173.5 346.4 173.3 347.4 173.8 348.4 173.5 349.5 173.5 350.5 173.8 351.5 173.7 352.5 173.5 353.5 174.1 354.5 173.9 355.5 174.3 356.5 174.1 357.6 174.6 358.6 174.7 359.6 174.1 360.6 174.9 361.7 174.6 362.7 175.3 363.7 174.7 364.7 175.4 365.7 175.1 366.7 175.7 367.7 176.0 368.7 175.8 369.7 175.8 370.7 174.9 371.7 175.4 372.7 175.7 373.7 174.0 374.7 176.2 375.7 177.2 376.7 177.8 377.7 175.9 378.7 177.6 379.7 177.3 380.7 178.7 381.7 178.1 382.6 179.0 383.6 178.4 384.6 179.3 385.6 179.2 386.6 179.5 387.6 179.8 388.6 180.2 389.6 180.3 390.6 180.3 391.6 181.4 392.6 181.3 393.6 181.7 394.6 181.3 395.6 182.4 396.6 182.3 397.6 182.9 398.5 182.5 399.5 183.3 400.5 183.0 401.5 184.3 402.5 184.3 403.5 184.7 404.4 184.2 405.4 184.2 406.3 185.0 407.3 185.3 408.3 186.2 409.3 186.9 410.3 186.8 411.2 187.5 412.3 187.6 413.3 188.2 414.5 188.2 415.4 189.2 416.5 188.6 417.4 189.6 418.3 190.4 419.3 189.9 420.2 190.5 421.3 191.7 422.4 192.4 423.5 192.7 424.5 192.3" fill="none" stroke="#e3001b" stroke-width="1.9" stroke-linejoin="round" stroke-linecap="butt" stroke-dasharray="4.5 1.6"/>
<rect x="54" y="300.8" width="373.00" height="233.50" fill="none" stroke="#1a1a1a" stroke-width="1.4"/>
<line x1="95.20" y1="534.30" x2="95.20" y2="527.80" stroke="#1a1a1a" stroke-width="1.4" />
<line x1="136.50" y1="534.30" x2="136.50" y2="527.80" stroke="#1a1a1a" stroke-width="1.4" />
<line x1="177.80" y1="534.30" x2="177.80" y2="527.80" stroke="#1a1a1a" stroke-width="1.4" />
<line x1="219.10" y1="534.30" x2="219.10" y2="527.80" stroke="#1a1a1a" stroke-width="1.4" />
<line x1="260.10" y1="534.30" x2="260.10" y2="527.80" stroke="#1a1a1a" stroke-width="1.4" />
<line x1="301.50" y1="534.30" x2="301.50" y2="527.80" stroke="#1a1a1a" stroke-width="1.4" />
<line x1="342.20" y1="534.30" x2="342.20" y2="527.80" stroke="#1a1a1a" stroke-width="1.4" />
<line x1="383.30" y1="534.30" x2="383.30" y2="527.80" stroke="#1a1a1a" stroke-width="1.4" />
<line x1="54.00" y1="349.10" x2="60.50" y2="349.10" stroke="#1a1a1a" stroke-width="1.4" />
<line x1="54.00" y1="395.80" x2="60.50" y2="395.80" stroke="#1a1a1a" stroke-width="1.4" />
<line x1="54.00" y1="442.00" x2="60.50" y2="442.00" stroke="#1a1a1a" stroke-width="1.4" />
<line x1="54.00" y1="489.20" x2="60.50" y2="489.20" stroke="#1a1a1a" stroke-width="1.4" />
<text x="24.11" y="305.90" font-size="17.7" textLength="26.15" lengthAdjust="spacingAndGlyphs" stroke="#000" stroke-width="0.3">100</text>
<text x="32.83" y="353.80" font-size="17.7" textLength="17.43" lengthAdjust="spacingAndGlyphs" stroke="#000" stroke-width="0.3">80</text>
<text x="32.83" y="401.80" font-size="17.7" textLength="17.43" lengthAdjust="spacingAndGlyphs" stroke="#000" stroke-width="0.3">60</text>
<text x="32.83" y="446.50" font-size="17.7" textLength="17.43" lengthAdjust="spacingAndGlyphs" stroke="#000" stroke-width="0.3">40</text>
<text x="32.83" y="494.50" font-size="17.7" textLength="17.43" lengthAdjust="spacingAndGlyphs" stroke="#000" stroke-width="0.3">20</text>
<text x="41.55" y="537.70" font-size="17.7" textLength="8.72" lengthAdjust="spacingAndGlyphs" stroke="#000" stroke-width="0.3">0</text>
<text x="41.54" y="554.40" font-size="17.7" textLength="25.75" lengthAdjust="spacingAndGlyphs" stroke="#000" stroke-width="0.3">300</text>
<text x="124.28" y="554.40" font-size="17.7" textLength="25.75" lengthAdjust="spacingAndGlyphs" stroke="#000" stroke-width="0.3">400</text>
<text x="206.55" y="554.40" font-size="17.7" textLength="25.75" lengthAdjust="spacingAndGlyphs" stroke="#000" stroke-width="0.3">500</text>
<text x="289.08" y="554.40" font-size="17.7" textLength="25.75" lengthAdjust="spacingAndGlyphs" stroke="#000" stroke-width="0.3">600</text>
<text x="370.68" y="554.40" font-size="17.7" textLength="25.75" lengthAdjust="spacingAndGlyphs" stroke="#000" stroke-width="0.3">700</text>
<text x="271.28" y="576.40" font-size="17.5" textLength="114.40" lengthAdjust="spacingAndGlyphs" stroke="#000" stroke-width="0.3">Wavelength/nm</text>
<text x="232.26" y="589.60" font-size="17.5" stroke="#000" stroke-width="0.3">b</text>
<text transform="translate(12.90 434.12) rotate(-90)" x="0" y="0" font-size="17.5" textLength="124.99" lengthAdjust="spacingAndGlyphs" stroke="#000" stroke-width="0.3">Transmission (%)</text>
<rect x="254.5" y="378.2" width="153" height="50.8" fill="#fff" stroke="#111" stroke-width="1.4"/>
<line x1="268.90" y1="392.90" x2="293.50" y2="392.90" stroke="#e3001b" stroke-width="2" stroke-dasharray="5.2 1.4"/>
<line x1="268.90" y1="410.90" x2="294.80" y2="410.90" stroke="#332d92" stroke-width="2" />
<text x="298.90" y="397.60" font-size="17.5" textLength="44.95" lengthAdjust="spacingAndGlyphs" stroke="#000" stroke-width="0.3">P2A-2</text>
<text x="296.89" y="416.30" font-size="17.5" textLength="102.92" lengthAdjust="spacingAndGlyphs" stroke="#000" stroke-width="0.3">P2A-2 + CdSe</text>
<path d="M53.9 523.2 C54.2 522.6 54.9 520.9 55.8 519.4 C56.7 517.9 58.1 515.6 59.2 514.2 C60.3 512.9 61.4 512.3 62.5 511.3 C63.6 510.3 64.9 509.3 66.0 508.3 C67.1 507.3 68.5 505.9 69.2 505.3 C69.9 504.7 69.9 505.4 70.4 504.9 C70.9 504.4 71.4 503.6 72.3 502.1 C73.2 500.6 74.8 498.0 76.0 495.8 C77.2 493.6 78.4 491.4 79.6 489.0 C80.8 486.6 82.2 484.0 83.4 481.5 C84.6 479.0 85.6 476.3 86.6 473.9 C87.5 471.5 88.1 469.4 89.1 467.0 C90.1 464.6 91.3 463.1 92.8 459.5 C94.3 455.9 96.6 449.8 98.2 445.7 C99.8 441.6 101.0 438.3 102.3 434.9 C103.6 431.5 105.1 428.1 106.3 425.4 C107.5 422.7 108.7 420.3 109.5 418.5 C110.3 416.7 109.8 416.7 111.0 414.5 C112.2 412.3 114.9 408.1 116.9 405.3 C118.9 402.5 120.8 399.2 122.8 397.7 C124.8 396.1 126.6 396.4 128.7 396.0 C130.8 395.6 133.2 395.4 135.4 395.2 C137.6 395.0 140.0 394.8 142.1 394.9 C144.2 395.0 146.2 395.4 148.0 396.0 C149.8 396.6 151.3 397.3 153.0 398.6 C154.7 399.9 156.4 401.4 158.1 403.6 C159.8 405.8 161.6 409.2 163.1 412.0 C164.6 414.8 166.1 417.8 167.3 420.4 C168.5 423.0 169.4 424.6 170.5 427.5 C171.6 430.4 172.6 433.2 173.7 437.7 C174.8 442.2 175.8 448.9 176.8 454.5 C177.9 460.1 178.9 466.2 180.0 471.3 C181.1 476.4 182.0 481.1 183.1 485.0 C184.2 488.9 185.2 492.4 186.3 494.5 C187.4 496.6 188.2 497.4 189.4 497.6 C190.6 497.8 192.0 496.4 193.6 495.5 C195.2 494.6 197.5 494.0 198.9 492.4 C200.3 490.8 200.9 489.5 202.0 486.0 C203.1 482.5 204.1 477.6 205.2 471.3 C206.2 465.0 207.2 455.2 208.3 448.2 C209.4 441.2 210.6 433.1 211.5 429.3 C212.4 425.5 212.7 426.7 213.6 425.1 C214.5 423.5 215.6 422.3 216.7 419.9 C217.8 417.4 218.8 414.1 219.9 410.4 C221.0 406.7 221.9 401.3 223.0 397.8 C224.1 394.3 225.0 391.1 226.2 389.4 C227.4 387.6 229.2 388.0 230.4 387.3 C231.6 386.6 232.3 386.8 233.5 385.2 C234.7 383.6 236.6 380.1 237.7 377.9 C238.8 375.6 239.1 373.2 240.0 371.7 C240.9 370.1 241.6 369.1 243.2 368.6 C244.8 368.1 247.4 369.5 249.5 368.6 C251.6 367.7 253.7 365.2 255.8 363.3 C257.9 361.4 259.5 358.5 262.1 357.4 C264.7 356.3 268.9 357.4 271.5 356.6 C274.1 355.8 275.7 354.1 277.8 352.8 C279.9 351.5 281.3 349.8 284.1 349.0 C286.9 348.2 291.5 349.0 294.6 348.2 C297.8 347.4 300.2 345.5 303.0 344.4 C305.8 343.3 308.2 342.2 311.4 341.7 C314.5 341.2 318.8 341.9 321.9 341.3 C325.0 340.7 327.6 339.0 330.3 338.2 C333.1 337.4 334.9 336.8 338.4 336.3 C341.8 335.8 346.8 335.8 351.0 335.2 C355.2 334.6 360.1 333.3 363.6 332.7 C367.1 332.1 368.5 331.8 372.0 331.4 C375.5 331.0 380.4 330.8 384.6 330.4 C388.8 330.0 393.0 329.6 397.2 329.3 C401.4 329.0 405.0 328.7 409.8 328.5 C414.6 328.3 423.3 328.0 426.0 327.9" fill="none" stroke="#332d92" stroke-width="2.0" stroke-linejoin="round" stroke-linecap="butt" />
<path d="M53.9 519.4 C54.1 518.8 54.6 517.3 55.2 515.7 C55.8 514.1 56.8 511.9 57.7 510.0 C58.6 508.1 59.9 505.9 60.8 504.5 C61.7 503.1 62.1 502.9 62.9 501.8 C63.7 500.7 64.7 499.4 65.8 498.0 C66.9 496.6 68.4 495.0 69.6 493.4 C70.8 491.8 71.9 490.1 73.0 488.1 C74.1 486.1 75.2 483.6 76.2 481.5 C77.2 479.4 78.1 477.5 79.0 475.2 C79.9 472.9 80.5 469.9 81.5 467.6 C82.5 465.3 83.6 463.7 84.7 461.3 C85.8 458.9 87.2 456.2 88.3 453.5 C89.4 450.8 90.6 447.6 91.5 445.0 C92.4 442.4 93.0 440.6 93.8 438.2 C94.6 435.8 95.4 433.4 96.2 430.8 C97.0 428.2 97.9 424.7 98.6 422.7 C99.2 420.7 99.1 421.2 100.1 418.7 C101.0 416.2 102.9 411.1 104.3 407.8 C105.7 404.5 107.1 401.3 108.5 398.6 C109.9 395.9 111.3 394.1 112.7 391.8 C114.1 389.6 115.4 386.9 116.9 385.1 C118.4 383.3 120.2 382.0 121.9 380.9 C123.6 379.8 125.3 379.2 127.0 378.7 C128.7 378.2 130.5 378.3 132.0 378.1 C133.5 377.9 134.5 377.5 136.2 377.6 C137.9 377.7 140.0 378.1 142.1 378.7 C144.2 379.2 146.6 380.1 148.8 380.9 C151.0 381.7 153.5 382.4 155.5 383.4 C157.5 384.4 159.0 385.4 160.6 386.8 C162.2 388.2 163.5 389.8 164.8 391.8 C166.1 393.8 167.1 395.5 168.2 398.6 C169.3 401.7 170.5 406.0 171.6 410.4 C172.7 414.8 173.6 419.9 174.7 425.1 C175.8 430.4 176.8 436.6 177.9 441.9 C179.0 447.1 179.8 451.7 181.0 456.6 C182.2 461.5 183.6 467.6 185.2 471.3 C186.8 475.0 188.8 477.1 190.5 478.7 C192.2 480.3 193.9 481.5 195.7 481.2 C197.4 480.9 199.4 479.3 201.0 476.6 C202.6 473.9 204.0 470.1 205.2 465.0 C206.4 459.9 207.2 453.5 208.3 446.1 C209.4 438.8 210.4 427.7 211.5 420.9 C212.6 414.1 213.5 408.7 214.6 405.2 C215.7 401.7 216.8 401.3 217.8 399.9 C218.9 398.5 219.9 398.7 220.9 396.8 C221.9 394.9 223.1 391.4 224.1 388.4 C225.1 385.4 226.1 381.5 227.2 378.9 C228.2 376.3 229.0 373.8 230.4 372.6 C231.8 371.4 233.8 372.3 235.6 371.6 C237.3 370.9 239.6 369.8 240.9 368.4 C242.2 367.0 241.9 364.9 243.2 363.3 C244.4 361.7 246.3 359.4 248.4 358.5 C250.5 357.6 253.5 358.9 255.8 358.1 C258.1 357.3 259.8 355.6 262.1 353.9 C264.4 352.2 266.9 348.9 269.4 348.0 C271.8 347.1 274.4 348.9 276.8 348.6 C279.2 348.4 281.5 347.6 284.1 346.5 C286.7 345.4 289.7 342.8 292.5 341.9 C295.3 341.0 298.4 341.4 300.9 341.3 C303.3 341.2 305.1 342.0 307.2 341.3 C309.3 340.6 311.4 338.0 313.5 337.1 C315.6 336.2 317.4 336.2 319.8 336.0 C322.2 335.8 325.1 336.6 328.2 336.0 C331.3 335.4 335.3 333.5 338.4 332.7 C341.5 331.9 343.6 331.2 346.8 331.0 C350.0 330.8 353.8 331.8 357.3 331.6 C360.8 331.4 364.3 330.4 367.8 330.0 C371.3 329.6 374.8 329.4 378.3 328.9 C381.8 328.4 385.0 327.5 388.8 327.2 C392.6 326.9 397.9 327.1 401.4 326.8 C404.9 326.5 407.0 325.3 409.8 325.1 C412.6 324.9 415.5 325.9 418.2 325.8 C420.9 325.7 424.7 324.6 426.0 324.3" fill="none" stroke="#e3001b" stroke-width="2.0" stroke-linejoin="round" stroke-linecap="butt" stroke-dasharray="5.2 2.2"/>
<rect x="53.7" y="600.8" width="372.30" height="233.50" fill="none" stroke="#1a1a1a" stroke-width="1.4"/>
<line x1="95.20" y1="834.30" x2="95.20" y2="827.80" stroke="#1a1a1a" stroke-width="1.4" />
<line x1="136.50" y1="834.30" x2="136.50" y2="827.80" stroke="#1a1a1a" stroke-width="1.4" />
<line x1="177.80" y1="834.30" x2="177.80" y2="827.80" stroke="#1a1a1a" stroke-width="1.4" />
<line x1="219.10" y1="834.30" x2="219.10" y2="827.80" stroke="#1a1a1a" stroke-width="1.4" />
<line x1="260.10" y1="834.30" x2="260.10" y2="827.80" stroke="#1a1a1a" stroke-width="1.4" />
<line x1="301.50" y1="834.30" x2="301.50" y2="827.80" stroke="#1a1a1a" stroke-width="1.4" />
<line x1="342.20" y1="834.30" x2="342.20" y2="827.80" stroke="#1a1a1a" stroke-width="1.4" />
<line x1="383.30" y1="834.30" x2="383.30" y2="827.80" stroke="#1a1a1a" stroke-width="1.4" />
<line x1="53.70" y1="639.70" x2="60.20" y2="639.70" stroke="#1a1a1a" stroke-width="1.4" />
<line x1="53.70" y1="682.20" x2="60.20" y2="682.20" stroke="#1a1a1a" stroke-width="1.4" />
<line x1="53.70" y1="725.10" x2="60.20" y2="725.10" stroke="#1a1a1a" stroke-width="1.4" />
<line x1="53.70" y1="767.20" x2="60.20" y2="767.20" stroke="#1a1a1a" stroke-width="1.4" />
<line x1="53.70" y1="809.80" x2="60.20" y2="809.80" stroke="#1a1a1a" stroke-width="1.4" />
<text x="24.11" y="605.60" font-size="17.7" textLength="26.15" lengthAdjust="spacingAndGlyphs" stroke="#000" stroke-width="0.3">100</text>
<text x="32.83" y="644.60" font-size="17.7" textLength="17.43" lengthAdjust="spacingAndGlyphs" stroke="#000" stroke-width="0.3">80</text>
<text x="32.83" y="686.80" font-size="17.7" textLength="17.43" lengthAdjust="spacingAndGlyphs" stroke="#000" stroke-width="0.3">60</text>
<text x="32.83" y="730.80" font-size="17.7" textLength="17.43" lengthAdjust="spacingAndGlyphs" stroke="#000" stroke-width="0.3">40</text>
<text x="32.83" y="772.70" font-size="17.7" textLength="17.43" lengthAdjust="spacingAndGlyphs" stroke="#000" stroke-width="0.3">20</text>
<text x="41.55" y="814.40" font-size="17.7" textLength="8.72" lengthAdjust="spacingAndGlyphs" stroke="#000" stroke-width="0.3">0</text>
<text x="41.54" y="854.10" font-size="17.7" textLength="25.75" lengthAdjust="spacingAndGlyphs" stroke="#000" stroke-width="0.3">300</text>
<text x="124.28" y="854.10" font-size="17.7" textLength="25.75" lengthAdjust="spacingAndGlyphs" stroke="#000" stroke-width="0.3">400</text>
<text x="206.55" y="854.10" font-size="17.7" textLength="25.75" lengthAdjust="spacingAndGlyphs" stroke="#000" stroke-width="0.3">500</text>
<text x="289.08" y="854.10" font-size="17.7" textLength="25.75" lengthAdjust="spacingAndGlyphs" stroke="#000" stroke-width="0.3">600</text>
<text x="370.68" y="854.10" font-size="17.7" textLength="25.75" lengthAdjust="spacingAndGlyphs" stroke="#000" stroke-width="0.3">700</text>
<text x="271.28" y="875.50" font-size="17.5" textLength="114.40" lengthAdjust="spacingAndGlyphs" stroke="#000" stroke-width="0.3">Wavelength/nm</text>
<text x="231.85" y="887.00" font-size="17.5" stroke="#000" stroke-width="0.3">c</text>
<text transform="translate(12.90 735.82) rotate(-90)" x="0" y="0" font-size="17.5" stroke="#000" stroke-width="0.3">Transmission (%)</text>
<rect x="264" y="691.7" width="153.4" height="51.6" fill="#fff" stroke="#111" stroke-width="1.4"/>
<line x1="277.00" y1="707.30" x2="301.60" y2="707.30" stroke="#e3001b" stroke-width="1.8" stroke-dasharray="4.6 2"/>
<line x1="277.40" y1="726.30" x2="304.40" y2="726.30" stroke="#332d92" stroke-width="1.6" />
<text x="310.35" y="711.70" font-size="17.5" textLength="40.37" lengthAdjust="spacingAndGlyphs" stroke="#000" stroke-width="0.3">J3B-1</text>
<text x="308.43" y="730.60" font-size="17.5" stroke="#000" stroke-width="0.3">J3B-1 + CdSe</text>
<path d="M53.8 807.5 C54.4 806.7 55.9 804.2 57.6 802.5 C59.3 800.8 61.8 799.0 63.9 797.5 C66.0 796.0 68.3 795.1 70.2 793.2 C72.1 791.3 73.5 788.8 75.2 786.1 C76.9 783.5 78.5 780.6 80.2 777.3 C81.9 773.9 83.6 770.0 85.3 766.0 C87.0 762.0 88.6 757.6 90.3 753.4 C92.0 749.2 93.7 745.1 95.4 740.7 C97.1 736.3 98.7 731.5 100.4 726.9 C102.1 722.3 103.6 717.6 105.5 713.0 C107.4 708.4 109.7 703.2 111.8 699.2 C113.9 695.2 116.2 691.8 118.1 689.1 C120.0 686.4 121.0 684.4 123.1 682.8 C125.2 681.2 128.2 680.8 130.7 679.7 C133.2 678.7 135.7 677.2 138.2 676.5 C140.7 675.8 143.5 675.5 145.8 675.2 C148.1 674.9 150.0 674.3 152.1 674.5 C154.2 674.7 156.0 675.6 158.4 676.5 C160.8 677.4 164.1 679.7 166.3 679.8 C168.5 679.9 169.8 677.9 171.6 677.3 C173.3 676.7 175.1 675.8 176.8 676.3 C178.6 676.8 180.3 678.6 182.1 680.5 C183.8 682.4 185.7 686.7 187.3 687.4 C188.9 688.1 190.1 685.3 191.5 684.7 C192.9 684.1 194.3 682.9 195.7 683.6 C197.1 684.3 198.5 686.1 199.9 688.9 C201.3 691.7 202.7 695.7 204.1 700.4 C205.5 705.1 206.9 711.6 208.3 717.2 C209.7 722.8 211.1 729.1 212.5 734.0 C213.9 738.9 215.1 742.6 216.7 746.6 C218.3 750.6 220.2 755.8 222.0 758.2 C223.8 760.7 225.4 761.6 227.2 761.3 C228.9 760.9 230.8 759.2 232.5 756.1 C234.2 753.0 235.9 748.9 237.7 742.4 C239.4 735.9 241.4 725.6 243.0 717.2 C244.6 708.8 246.0 698.2 247.2 692.0 C248.4 685.8 249.2 683.0 250.0 680.0 C250.8 677.0 251.1 675.6 251.9 674.3 C252.7 673.0 253.4 672.3 254.7 672.0 C256.0 671.7 258.1 672.6 259.5 672.4 C260.9 672.1 261.9 671.5 263.2 670.5 C264.4 669.5 265.7 668.4 267.0 666.7 C268.3 665.0 269.4 662.3 270.8 660.1 C272.2 657.9 273.9 655.2 275.5 653.5 C277.1 651.8 278.6 650.2 280.3 649.7 C282.0 649.2 284.0 650.2 285.9 650.7 C287.8 651.2 289.7 652.5 291.6 652.5 C293.5 652.5 295.4 652.0 297.3 650.7 C299.2 649.5 301.0 646.7 302.9 645.0 C304.8 643.3 306.7 641.4 308.6 640.3 C310.5 639.2 312.4 638.4 314.3 638.4 C316.2 638.4 317.8 639.8 320.0 640.3 C322.2 640.8 325.3 641.6 327.5 641.6 C329.7 641.6 330.9 641.3 333.2 640.3 C335.4 639.2 338.5 636.9 341.0 635.3 C343.5 633.7 345.7 631.6 348.0 630.9 C350.3 630.2 352.5 630.6 355.0 630.9 C357.5 631.2 359.9 632.0 362.9 632.5 C365.9 633.0 369.9 634.2 372.9 633.9 C375.9 633.6 378.2 632.0 380.9 630.9 C383.6 629.8 386.2 628.3 388.9 627.4 C391.6 626.5 394.2 625.7 396.9 625.6 C399.5 625.5 402.1 626.1 404.8 626.6 C407.5 627.1 410.5 628.2 412.8 628.5 C415.1 628.8 416.6 628.6 418.8 628.5 C421.0 628.4 424.8 628.0 426.0 627.9" fill="none" stroke="#332d92" stroke-width="1.8" stroke-linejoin="round" stroke-linecap="butt" />
<path d="M53.8 805.0 C54.6 804.0 56.9 800.6 58.8 798.7 C60.7 796.8 63.0 795.6 65.1 793.7 C67.2 791.8 69.5 789.7 71.4 787.4 C73.3 785.1 74.8 782.8 76.5 779.8 C78.2 776.8 79.8 773.5 81.5 769.7 C83.2 765.9 84.9 761.3 86.6 757.1 C88.3 752.9 89.9 749.1 91.6 744.5 C93.3 739.9 94.9 734.4 96.6 729.4 C98.3 724.4 100.0 719.1 101.7 714.3 C103.4 709.5 104.8 704.8 106.7 700.4 C108.6 696.0 110.9 691.8 113.0 687.8 C115.1 683.8 117.0 679.4 119.3 676.5 C121.6 673.6 124.2 671.6 126.9 670.2 C129.6 668.8 132.5 668.7 135.7 668.1 C138.8 667.5 142.0 666.8 145.8 666.4 C149.6 666.0 154.6 666.1 158.4 665.9 C162.2 665.7 165.3 665.0 168.4 665.1 C171.5 665.2 174.2 666.2 176.8 666.8 C179.4 667.4 181.8 667.5 184.2 668.9 C186.6 670.3 189.2 672.9 191.5 675.2 C193.8 677.5 195.9 679.8 197.8 682.6 C199.7 685.4 201.5 688.0 203.1 692.0 C204.7 696.0 205.9 701.5 207.3 706.7 C208.7 712.0 210.1 718.2 211.5 723.5 C212.9 728.8 214.1 733.3 215.7 738.2 C217.3 743.1 219.2 749.0 220.9 752.9 C222.7 756.8 224.6 759.6 226.2 761.3 C227.8 763.0 228.8 764.0 230.4 763.0 C232.0 762.0 234.0 758.8 235.6 755.0 C237.2 751.2 238.4 745.5 239.8 740.3 C241.2 735.0 242.6 729.8 244.0 723.5 C245.4 717.2 246.9 709.8 248.2 702.5 C249.5 695.2 250.8 685.0 251.9 680.0 C253.0 675.0 253.0 673.9 254.7 672.4 C256.4 670.9 260.2 671.7 262.3 670.9 C264.4 670.1 265.3 669.7 267.0 667.7 C268.7 665.8 270.8 662.2 272.7 659.2 C274.6 656.2 276.7 651.4 278.4 649.7 C280.1 648.0 281.2 648.7 283.1 648.8 C285.0 648.9 287.6 650.1 289.7 650.1 C291.8 650.1 293.5 649.6 295.4 648.8 C297.3 647.9 298.9 646.6 301.0 645.0 C303.1 643.4 305.5 640.6 307.7 639.3 C309.9 638.0 311.9 637.5 314.3 637.4 C316.7 637.2 319.3 638.1 321.8 638.4 C324.3 638.7 327.2 639.5 329.4 639.3 C331.6 639.1 333.2 638.5 335.1 637.4 C337.0 636.3 338.9 634.1 341.0 632.9 C343.1 631.6 345.7 630.4 348.0 629.9 C350.3 629.4 352.5 629.7 355.0 629.9 C357.5 630.1 360.2 631.1 362.9 631.3 C365.5 631.5 368.2 631.6 370.9 631.3 C373.6 631.0 376.2 630.2 378.9 629.3 C381.6 628.4 384.6 626.8 386.9 626.0 C389.2 625.2 390.6 624.8 392.9 624.6 C395.2 624.4 398.2 624.8 400.9 625.0 C403.5 625.2 406.1 625.3 408.8 625.6 C411.5 625.9 413.9 626.7 416.8 626.6 C419.7 626.5 424.5 625.3 426.0 625.0" fill="none" stroke="#e3001b" stroke-width="2.0" stroke-linejoin="round" stroke-linecap="butt" stroke-dasharray="5 2.2"/>
</svg>
</body></html>
